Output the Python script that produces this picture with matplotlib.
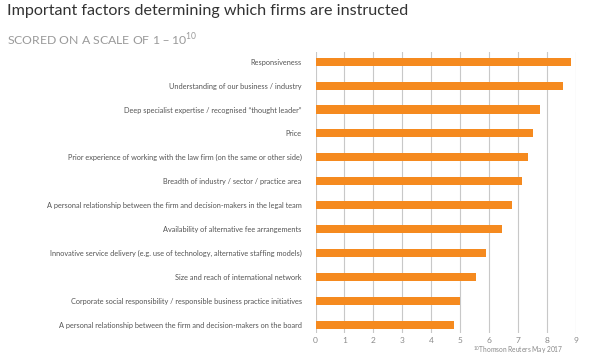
import matplotlib
matplotlib.use("Agg")
import matplotlib.pyplot as plt

categories = [
    "Responsiveness",
    "Understanding of our business / industry",
    "Deep specialist expertise / recognised \u201cthought leader\u201d",
    "Price",
    "Prior experience of working with the law firm (on the same or other side)",
    "Breadth of industry / sector / practice area",
    "A personal relationship between the firm and decision-makers in the legal team",
    "Availability of alternative fee arrangements",
    "Innovative service delivery (e.g. use of technology, alternative staffing models)",
    "Size and reach of international network",
    "Corporate social responsibility / responsible business practice initiatives",
    "A personal relationship between the firm and decision-makers on the board",
]
scores = [8.83, 8.57, 7.77, 7.54, 7.34, 7.15, 6.80, 6.44, 5.90, 5.54, 5.00, 4.79]
x_ticks = [0, 1, 2, 3, 4, 5, 6, 7, 8, 9]

plt.rcParams['font.family'] = ['Lato', 'DejaVu Sans']

fig = plt.figure(figsize=(6.0, 3.57), dpi=100)
ax = fig.add_axes([0.526, 0.067, 0.4333, 0.787])

ypos = list(range(len(categories)))
ax.barh(ypos, scores, height=0.34, color='#F58A1F', zorder=3)
ax.set_ylim(11.35, -0.4)
ax.set_xlim(0, 9)
ax.set_xticks(x_ticks)
ax.set_xticklabels([str(t) for t in x_ticks])
ax.set_yticks(ypos)
ax.set_yticklabels(categories)
ax.tick_params(axis='y', length=0, pad=10, labelsize=5.3, labelcolor='#555555')
ax.tick_params(axis='x', length=0, pad=3, labelsize=6, labelcolor='#8a8a8a')
for s in ax.spines.values():
    s.set_visible(False)
ax.grid(axis='x', color='#c8c8c8', linewidth=0.8, zorder=0)
ax.set_axisbelow(True)

fig.text(0.012, 0.988, "Important factors determining which firms are instructed",
         fontsize=11.6, color='#333333', va='top', ha='left')
fig.text(0.012, 0.912, "SCORED ON A SCALE OF 1 \u2013 10$^{\\mathregular{10}}$",
         fontsize=8.8, color='#9a9a9a', va='top', ha='left')
fig.text(0.788, 0.004, "$^{\\mathregular{10}}$Thomson Reuters May 2017",
         fontsize=4.8, color='#888888', va='bottom', ha='left')

fig.savefig("out.png", dpi=100, facecolor='white')
